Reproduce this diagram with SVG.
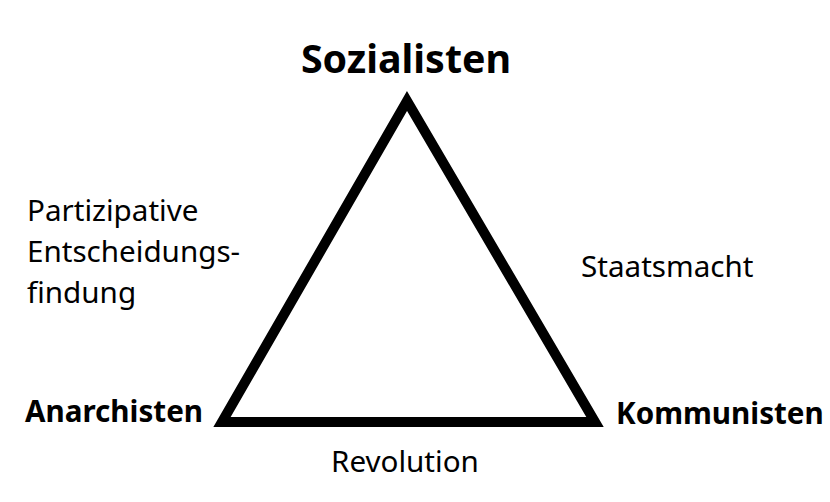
<svg xmlns="http://www.w3.org/2000/svg" width="830" height="502" viewBox="0 0 830 502">
<style>
text{font-family:"Noto Sans","Open Sans","DejaVu Sans",sans-serif;fill:#000}
.b{font-weight:bold;font-size:29.6px}
.r{font-size:29.6px}
</style>
<rect width="830" height="502" fill="#fff"/>
<g id="connectors">
<polygon points="407,101 222,422 595,422" fill="none" stroke="#000" stroke-width="10" stroke-linejoin="miter" stroke-miterlimit="10"/>
</g>
<g id="sozialisten"><text class="b" x="406" y="73" text-anchor="middle" style="font-size:39.4px">Sozialisten</text></g>
<g id="anarchisten"><text class="b" x="25" y="422">Anarchisten</text></g>
<g id="kommunisten"><text class="b" x="616" y="424">Kommunisten</text></g>
<g id="staatsmacht"><text class="r" x="581" y="277">Staatsmacht</text></g>
<g id="revolution"><text class="r" x="331" y="472">Revolution</text></g>
<g id="partizipative"><text class="r" x="27" y="221">Partizipative<tspan x="27" y="262">Entscheidungs-</tspan><tspan x="27" y="303">findung</tspan></text></g>
</svg>
